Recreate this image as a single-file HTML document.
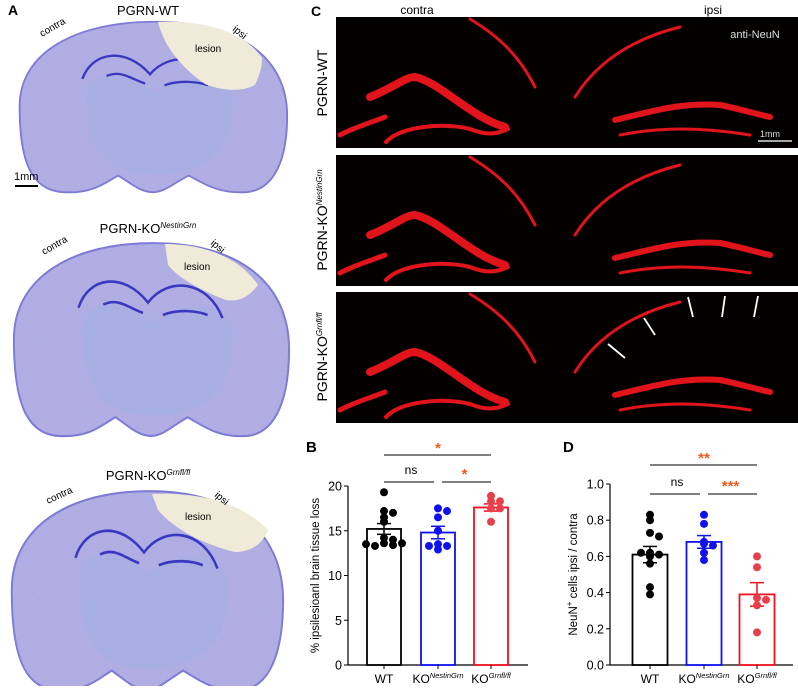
<!DOCTYPE html>
<html><head><meta charset="utf-8"><style>
body{margin:0;background:#fff;width:798px;height:686px;overflow:hidden}
svg text{font-family:"Liberation Sans",Arial,sans-serif}
</style></head><body>
<svg id="fig" width="798" height="686" viewBox="0 0 798 686" xmlns="http://www.w3.org/2000/svg">
<defs>
<filter id="grain" x="0" y="0" width="100%" height="100%"><feTurbulence type="fractalNoise" baseFrequency="0.8" numOctaves="2" seed="3"/><feColorMatrix values="0 0 0 0 0.35  0 0 0 0 0.33  0 0 0 0 0.8  0 0 0 0.6 -0.1"/><feComposite in2="SourceGraphic" operator="in"/></filter>
<symbol id="brain" viewBox="0 0 290 190" preserveAspectRatio="none">
<path d="M10,95 C10,35 70,3 150,3 C235,3 287,40 287,105 C287,150 275,185 245,188 C215,190 200,178 185,170 C170,178 160,188 148,188 C135,188 125,178 112,170 C98,178 85,190 55,188 C20,186 10,150 10,95 Z" fill="#b4b2e2" stroke="#7a78d2" stroke-width="2"/>
<path d="M10,95 C10,35 70,3 150,3 C235,3 287,40 287,105 C287,150 275,185 245,188 C215,190 200,178 185,170 C170,178 160,188 148,188 C135,188 125,178 112,170 C98,178 85,190 55,188 C20,186 10,150 10,95 Z" fill="#fff" filter="url(#grain)"/>
<path d="M80,95 C70,60 110,50 150,80 C190,50 240,65 230,100 C230,150 190,170 150,168 C110,170 80,150 80,95 Z" fill="#a3b0e4" opacity="0.55"/>
<path d="M75,65 C85,35 120,30 145,60 C165,35 205,38 220,75" fill="none" stroke="#3a38c0" stroke-width="2.5"/>
<path d="M100,62 C115,55 125,65 140,70 M160,72 C175,66 195,68 205,72" fill="none" stroke="#3a38c0" stroke-width="2.5"/>
</symbol>
</defs>
<g>
<text x="8" y="15" font-size="14" font-weight="bold">A</text>
<text x="148" y="15" font-size="13" text-anchor="middle">PGRN-WT</text>
<use href="#brain" x="10" y="19" width="280" height="175"/>
<path d="M158,22 C205,20 245,32 262,58 C262,70 258,78 255,85 C240,93 220,90 205,84 C185,70 165,50 158,22 Z" fill="#f0ebd9"/>
<text x="42" y="37" font-size="10" transform="rotate(-30 42 37)">contra</text>
<text x="232" y="30" font-size="10" transform="rotate(40 232 30)">ipsi</text>
<text x="195" y="52" font-size="10">lesion</text>
<text x="14" y="180" font-size="11">1mm</text>
<line x1="15" y1="186" x2="38" y2="186" stroke="#000" stroke-width="2"/>

<text x="148" y="233" font-size="13" text-anchor="middle">PGRN-KO<tspan font-size="8" font-style="italic" dy="-5">NestinGrn</tspan></text>
<use href="#brain" x="4" y="240" width="288" height="198"/>
<path d="M165,244 C205,244 240,258 258,285 C248,298 238,302 226,300 C205,292 180,280 168,265 Z" fill="#f0ebd9"/>
<text x="44" y="255" font-size="10" transform="rotate(-30 44 255)">contra</text>
<text x="210" y="244" font-size="10" transform="rotate(40 210 244)">ipsi</text>
<text x="184" y="270" font-size="10">lesion</text>

<text x="148" y="480" font-size="13" text-anchor="middle">PGRN-KO<tspan font-size="8" font-style="italic" dy="-5">Grnfl/fl</tspan></text>
<use href="#brain" x="2" y="488" width="284" height="204"/>
<path d="M152,494 C205,492 245,505 268,530 C262,545 250,552 235,552 C205,545 175,530 158,510 Z" fill="#f0ebd9"/>
<text x="48" y="504" font-size="10" transform="rotate(-25 48 504)">contra</text>
<text x="214" y="496" font-size="10" transform="rotate(40 214 496)">ipsi</text>
<text x="185" y="520" font-size="10">lesion</text>
</g>

<g>
<text x="311" y="16" font-size="14" font-weight="bold">C</text>
<text x="417" y="14" font-size="12" text-anchor="middle">contra</text>
<text x="713" y="14" font-size="12" text-anchor="middle">ipsi</text>
<g id="cimgs"></g>
<text x="755" y="38" font-size="11" fill="#ddd" text-anchor="middle">anti-NeuN</text>
<text x="770" y="137" font-size="9" fill="#ddd" text-anchor="middle">1mm</text>
<line x1="758" y1="141" x2="792" y2="141" stroke="#ddd" stroke-width="1.5"/>
<text transform="translate(327 83) rotate(-90)" font-size="14" text-anchor="middle">PGRN-WT</text>
<text transform="translate(327 220) rotate(-90)" font-size="14" text-anchor="middle">PGRN-KO<tspan font-size="8" font-style="italic" dy="-5">NestinGrn</tspan></text>
<text transform="translate(327 357) rotate(-90)" font-size="14" text-anchor="middle">PGRN-KO<tspan font-size="8" font-style="italic" dy="-5">Grnfl/fl</tspan></text>
<g stroke="#fff" stroke-width="1.8" fill="#fff">
<line x1="608" y1="344" x2="625" y2="358"/><line x1="644" y1="318" x2="655" y2="335"/><line x1="688" y1="297" x2="693" y2="317"/><line x1="725" y1="296" x2="722" y2="317"/><line x1="758" y1="296" x2="754" y2="317"/>
</g>
</g>

<g id="chartB"></g>
<g id="chartD"></g>
</svg>
<script>
const NS='http://www.w3.org/2000/svg';
function mk(p,tag,a,txt){const e=document.createElementNS(NS,tag);for(const k in a)e.setAttribute(k,a[k]);if(txt!==undefined)e.textContent=txt;p.appendChild(e);return e;}
// Panel C images
const cim=document.getElementById('cimgs');
const rows=[17,155,292];
rows.forEach((y0,i)=>{
 const g=mk(cim,'g',{});
 
 
 mk(g,'rect',{x:336,y:y0,width:462,height:131,fill:'#050000'});
 const s={fill:'none',stroke:'#e0141a','stroke-linecap':'round'};
 const P=(d,w)=>{mk(g,'path',Object.assign({d:d,'stroke-width':w},s));};
 P(`M370,${y0+80} C395,${y0+70} 405,${y0+60} 415,${y0+60} C440,${y0+65} 470,${y0+100} 505,${y0+110}`,8);
 P(`M386,${y0+125} C400,${y0+110} 440,${y0+105} 470,${y0+112} C485,${y0+118} 495,${y0+118} 508,${y0+112}`,4);
 P(`M470,${y0+2} C500,${y0+20} 520,${y0+40} 535,${y0+70}`,3);
 P(`M575,${y0+80} C600,${y0+40} 640,${y0+20} 680,${y0+10}`,3);
 P(`M615,${y0+103} C650,${y0+95} 680,${y0+85} 720,${y0+88} C740,${y0+92} 760,${y0+98} 770,${y0+100}`,6);
 P(`M620,${y0+118} C660,${y0+110} 700,${y0+110} 750,${y0+118}`,3);
 P(`M340,${y0+118} C355,${y0+110} 370,${y0+106} 385,${y0+100}`,5);
});
// Chart B data
const catsB=['WT','KO','KO'];
const supB=['','NestinGrn','Grnfl/fl'];
const meansB=[15.2,14.8,17.6];
const semB=[0.6,0.7,0.4];
const ptsWT_B=[19.3,17.2,17.0,16.5,16.0,14.2,14.0,13.6,13.4,13.3,13.6,13.5];
const ptsNes_B=[17.5,17.2,16.5,15.0,13.5,13.3,12.9,13.3];
const ptsGrn_B=[18.9,18.3,18.3,17.5,17.5,16.0];
const ticksB=[0,5,10,15,20];
// Chart D data
const meansD=[0.61,0.68,0.39];
const semD=[0.045,0.035,0.065];
const ptsWT_D=[0.83,0.80,0.73,0.71,0.62,0.61,0.60,0.56,0.43,0.39,0.62];
const ptsNes_D=[0.83,0.78,0.68,0.67,0.66,0.62,0.58];
const ptsGrn_D=[0.60,0.54,0.37,0.36,0.33,0.18];
const ticksD=[0,0.2,0.4,0.6,0.8,1.0];
const colors=['#000','#1010f0','#f01020'];
const dotCol=['#000','#1010f0','#e8404a'];

function chart(gid,o){
 const g=document.getElementById(gid);
 const y=v=>o.y0-(v-o.min)/(o.max-o.min)*(o.y0-o.y1);
 const x=i=>o.xc[i];
 mk(g,'text',{x:o.lx,y:452,'font-size':15,'font-weight':'bold'},o.letter);
 mk(g,'line',{x1:o.ax,y1:y(o.max),x2:o.ax,y2:o.y0+0.5,stroke:'#000','stroke-width':1.2});
 mk(g,'line',{x1:o.ax,y1:o.y0,x2:o.axEnd,y2:o.y0,stroke:'#000','stroke-width':1.2});
 o.ticks.forEach(t=>{
  mk(g,'line',{x1:o.ax-4,y1:y(t),x2:o.ax,y2:y(t),stroke:'#000'});
  const tx=mk(g,'text',{x:o.ax-6,y:y(t)+4.5,'font-size':12.5,'text-anchor':'end'},o.fmt(t));
  
  
 });
 const yt=mk(g,'text',{transform:`translate(${o.ytx} ${(o.y0+y(o.max))/2}) rotate(-90)`,'font-size':11.5,'text-anchor':'middle'});
 yt.innerHTML=o.ytitle;
 
 
 o.means.forEach((m,i)=>{
  const r=mk(g,'rect',{x:x(i)-o.bw/2,y:y(m),width:o.bw,height:o.y0-y(m),fill:'#fff',stroke:colors[i],'stroke-width':1.8});
  
  
  mk(g,'line',{x1:x(i),y1:y(m-o.sem[i]),x2:x(i),y2:y(m+o.sem[i]),stroke:colors[i],'stroke-width':1.5});
  [m-o.sem[i],m+o.sem[i]].forEach(v=>mk(g,'line',{x1:x(i)-7,y1:y(v),x2:x(i)+7,y2:y(v),stroke:colors[i],'stroke-width':1.5}));
  mk(g,'line',{x1:x(i),y1:o.y0,x2:x(i),y2:o.y0+4,stroke:'#000'});
  const lb=mk(g,'text',{x:x(i),y:o.y0+18,'font-size':12,'text-anchor':'middle'});
  lb.innerHTML=catsB[i]+(supB[i]?`<tspan font-size="7.5" font-style="italic" dy="-5">${supB[i]}</tspan>`:'');
  
  
  const pts=o.pts[i];
  const seen={};
  pts.forEach(v=>{
   const k=Math.round(y(v)/6);seen[k]=(seen[k]||0)+1;
   const n=seen[k]-1;const off=(n%2?1:-1)*Math.ceil(n/2)*9;
   const c=mk(g,'circle',{cx:x(i)+off,cy:y(v),r:4,fill:dotCol[i]});
   
   
  });
 });
 mk(g,'line',{x1:x(0),y1:o.sig1,x2:x(2),y2:o.sig1,stroke:'#000'});
 mk(g,'line',{x1:x(0),y1:o.sig2,x2:x(1)-4,y2:o.sig2,stroke:'#000'});
 mk(g,'line',{x1:x(1)+4,y1:o.sig2,x2:x(2),y2:o.sig2,stroke:'#000'});
 mk(g,'text',{x:x(1),y:o.sig1-2,'font-size':15,fill:'#f05a1e','text-anchor':'middle','font-weight':'bold'},o.s1);
 mk(g,'text',{x:(x(0)+x(1))/2,y:o.sig2-8,'font-size':12,'text-anchor':'middle'},'ns');
 mk(g,'text',{x:(x(1)+x(2))/2,y:o.sig2-3,'font-size':15,fill:'#f05a1e','text-anchor':'middle','font-weight':'bold'},o.s2);
}
chart('chartB',{letter:'B',lx:306,min:0,max:20,y0:665,y1:486,ax:348,axEnd:528,xc:[384,438,491],bw:34,
 ticks:ticksB,fmt:t=>String(t),means:meansB,sem:semB,pts:[ptsWT_B,ptsNes_B,ptsGrn_B],
 ytitle:'% ipsilesioanl brain tissue loss',ytx:319,sig1:455,sig2:482,s1:'*',s2:'*'});
chart('chartD',{letter:'D',lx:563,min:0,max:1,y0:665,y1:484,ax:610,axEnd:793,xc:[650,704,757],bw:35,
 ticks:ticksD,fmt:t=>t.toFixed(1),means:meansD,sem:semD,pts:[ptsWT_D,ptsNes_D,ptsGrn_D],
 ytitle:'NeuN<tspan font-size="8" dy="-5">+</tspan><tspan dy="5"> cells ipsi / contra</tspan>',ytx:577,sig1:465,sig2:494,s1:'**',s2:'***'});
</script>
</body></html>
